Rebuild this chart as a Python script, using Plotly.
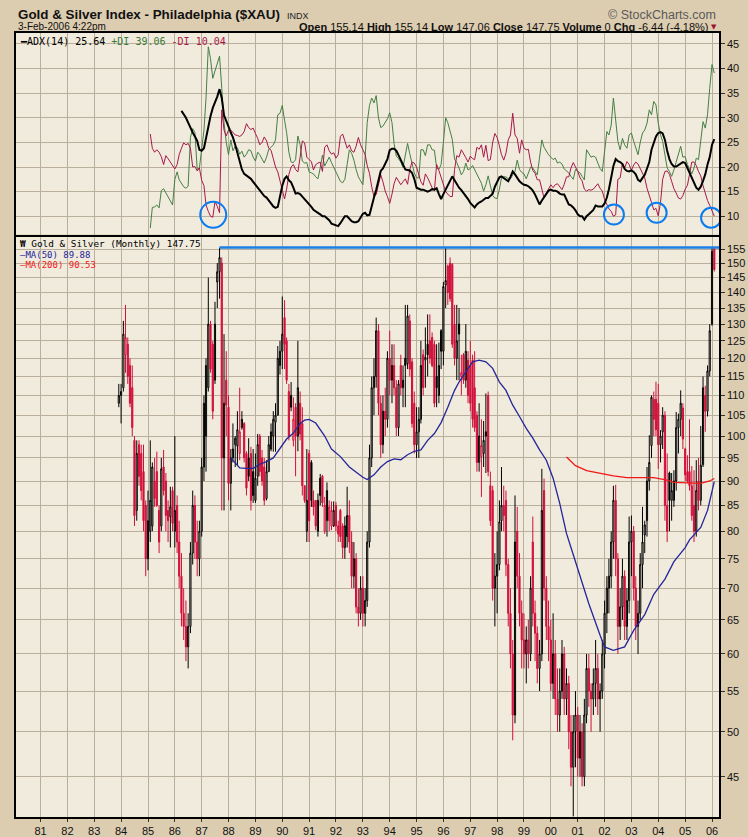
import math
import pandas as pd
import plotly.graph_objects as go

# ---------------- data ----------------
candle_start = "1983-12-01"   # first monthly bar
opens = [108,
    110,112,121,124,118,112,99,84,98,96,92,85,
    75,80,81,90,92,84,81,93,90,84,82.8,88,
    80,85,78,72,66,64,61,64,76,85,78,75,
    80,93,100,112,130,124,114,143.5,147,150,95,114,
    107,89.5,95,98,97.7,96,102,103,96,95,96,92,
    86,91,100,95,93,86.4,92,97,100,103.3,105,118,
    122,132,125,111,110,99,107,100,108,103,89,80,
    96,94,86,86,80,90.6,91,80,82,82,81,81,
    85,81,84,81,77,79,83,78,72,75,67,66,
    70,66,68,78,95,112,115,128,108,98,106,104,
    120,114,118,112,102,118,112,120,118.5,131,119,108,
    98,101,104,121,119.5,124,125,126,124,115,110,128,
    122,142.5,149,150,149.5,130,120,130,115,121,114,119.5,
    118,119.5,112,105,94,95.3,96,101,110,89,88,70,
    72,74,82,85,86,74,66,60,52,80,72,66,
    62,60,62,60,78,66,63,58,60,88,70,64,
    62,56,60,54,52,55,60,54,56,50,46,50,
    52,47,50,45,52,58,55,54,56,58,54,55,
    60,66,70,72,78,86,75,64,67,72,64,68,
    78,80,70,64,66,74,79.3,82,90,97.8,109,109,
    108,98,101,105,85,91.7,86,86,90,102,104,106.8,
    97,92,92,89,85,80,90,86,93.5,110,106,116.5,
    130,155.14]
highs = [113,
    113,131,136,126,120,118,100,99,99,98,98,86,
    88,99,94,95,96.4,85,95,96.8,91.7,86,88.8,88.8,
    100,87,82,76,70,68,66,78,88,87,82,82,
    95,110,120,145,131,125,137,150,155.5,152,127,122,
    110,97,103,100,106,112,106,103.3,96.5,99.5,97.5,97,
    96,100.5,100.5,96.8,95,94.5,100,103,106,108,123.5,125,
    138.7,137.5,126,113,113.5,109.5,108,125,111,107,89,97,
    96.8,94.5,88,86,87.4,91.5,91.3,86.7,89.7,86,85.8,85.8,
    85.7,82,84.3,81.5,82.8,88.8,86,80,78,76,70,72,
    72,70,80,98,115,120,132,130,110,110,112,122,
    128,124,124,114,114,121,118,136,136,133,120,111,
    107,107,125,122.5,129,133,133,127.5,125,124,124.5,128.5,
    143.5,155.5,149.5,152,150,136,136,135,121,121.5,130,122,
    125,121,122,106,108,104,103.6,110.5,111,92,89,76,
    80,86,93,89,88,75,70,62,87,84.7,76,68,
    66,64,65,72,82.8,68,64,62,92.6,90.5,72,68,
    65,66,62,58,58,62,61,58,57,52,52,55,
    53,52,51,54,60,60,56,58,62,60,56,62,
    68,72,75,80,89,89.2,76,70,75,73,70,82.8,
    83,81,72,68,76,84.7,82,93,100.2,110,111,113.6,
    113,101.4,107,106,96,92,91.7,92.3,105.8,105.4,111.3,108,
    97.3,95.6,104,93.2,92.3,94.5,95,102.4,115,112.5,118,130,
    155.5,155.14]
lows = [107,
    103,111,116,113,107,100,81,82,89,86,80,72,
    73,78,80,84.7,84.7,76,80,87,80,78,77,80,
    77,76,70,64,62,59,58,63,74,75,72,72,
    79,90,92,111,116,104,113,135,138,84,84,100,
    86,84,94,93,93.4,94.5,101.5,94,87,90,84,85.5,
    85.5,89,91,89,85,86,92,96.5,96.4,96.4,105,115.5,
    117,117,113,99,106,97.6,91,96.5,99,87,85.5,78,
    78,84.7,83,80.2,79,85,84.7,79.5,79,80,80.2,80.8,
    80,78,78,75,75,77,76,70,70,66,64,65,
    64,64,67,77,93,105,112,105,95,96,100,102,
    110,108,110,100,100,110,107,107,117,115,102,96,
    95,95,103,110,112,115,118.5,117.5,107,107,108,117,
    118,135,136,137,123,118,114,114,110,113,112,108,
    106,102,101,92,92,86.7,93,91.7,91,81,68,64,
    66,73,80,80,72,64,58,49,51,70,64,58,
    58,56,58,59,64,59,56,55,59,68,62,59,
    55,54,52,50,50,54,52,52,48,44,41,46,
    45,45,44,44,51,53,50,52,53,52,50,54,
    58,63,66,70,75,72,60,62,65,62,62,66,
    72,68,62,60,65,70,76,79,88,95,100,100,
    92.6,94,97,82,78,80,82,84.7,88,96,100,97,
    90,89.6,88,82,78,79,84,85,93,101,104.7,115,
    129.5,147.06]
closes = [110,
    111,127,126,115,108,102,83,96,91,88,82,75,
    82,86,93,86.4,85,78,92.6,88,83,82,84.7,81.5,
    84,78,72,66,64,61,64,76,85,78,75,80,
    93,108,118,130,117,106,130,147,152,95,108,107.5,
    89.5,95,97,99.5,101.5,101,104,95,88.5,91,86,87,
    90.6,98,92,90,86,92,98,101,104,105,120,122,
    127,124,114,100,107,104,100,112,100.5,89,86,86,
    82,86,84.7,81,86,87,85.5,85,88,84.7,84,84,
    81,79.5,79,77,81,83,78,72,75,67,66,70,
    66,68,78,95,112,115,128,108,98,106,104,120,
    114,118,112,102,113,112,114,118,132.5,117,103,98,
    101,104,118,112,120.3,121,120,118,108,112,118,122,
    142,144,140,138,124,120,125,127,116,114,122,110,
    108,104,102,94,100,97.8,99,100,92,82,70,72,
    74,81.8,85,83,74,66,60,52,78,72,66,62,
    60,62,60,70,66,63,58,60,84,70,64,62,
    56,60,54,52,55,60,54,56,50,46,50,52,
    47,50,45,52,58,55,54,56,58,54,55,60,
    66,70,72,78,86,75,64,67,72,64,68,78,
    80,70,64,66,74,78,81.2,90,94,109.5,104,101.5,
    98,100,105,85,80,86,88,90,102,104,108,99.3,
    91.3,90,89,83,80,88,86,93.4,112,106,116.5,128,
    154.19,147.75]

dmi_start = "1985-02-01"
plus_di = [7.6,11.8,11.9,12.3,11.7,15.2,15.6,14.7,14.0,13.2,12.3,
    17.5,19.0,17.4,16.8,16.0,15.7,16.1,26.0,27.8,27.0,19.5,19.8,
    24.0,27.5,34.0,44.4,42.0,38.0,39.5,41.0,42.5,36.0,29.0,25.0,
    22.5,25.5,23.3,24.2,23.9,22.6,23.2,22.0,22.6,23.5,23.3,22.0,
    21.2,23.0,22.5,21.6,20.8,22.0,23.6,24.0,24.5,25.5,30.6,30.9,
    32.5,29.5,27.0,23.0,21.0,20.9,21.5,26.3,24.5,21.2,20.8,20.9,
    19.0,18.8,18.6,18.0,17.6,19.8,22.4,20.2,21.0,22.0,20.9,20.0,
    19.0,18.0,17.1,16.8,17.5,20.5,23.5,22.8,21.4,19.5,18.0,17.2,
    16.4,22.0,29.0,32.5,34.0,33.0,34.5,30.0,28.0,28.3,29.0,29.8,
    31.0,29.0,24.8,22.2,21.7,21.0,19.9,22.5,24.8,22.7,20.5,18.8,
    17.8,17.8,23.5,23.5,22.3,24.5,24.5,23.5,23.4,19.8,19.5,20.5,
    25.0,30.0,29.0,27.2,25.6,21.6,20.9,19.8,18.4,19.1,20.8,19.4,
    19.7,20.3,19.4,18.3,17.5,16.7,15.1,16.4,18.2,16.2,14.2,13.7,
    13.6,15.5,17.8,18.0,18.0,17.6,17.6,18.4,19.1,21.4,19.5,18.9,
    18.6,17.6,18.7,20.0,19.8,19.1,18.4,22.0,25.5,24.0,23.2,22.5,
    22.0,21.5,21.8,20.8,21.0,20.6,19.6,19.2,18.8,18.1,17.5,19.5,
    19.2,18.8,18.1,17.4,23.5,22.8,22.0,22.2,22.0,20.8,19.7,19.1,
    23.8,27.2,26.5,28.5,34.0,29.6,25.2,23.5,25.8,24.5,23.8,26.5,
    26.9,25.2,23.8,22.5,25.0,26.9,27.5,28.9,31.6,30.6,33.3,32.6,
    28.9,26.5,25.2,22.5,19.8,19.1,18.1,19.4,21.1,22.5,24.2,22.0,
    22.1,20.5,19.4,18.6,19.8,21.8,21.5,25.2,29.2,27.9,30.6,36.0,
    40.8,39.06]
minus_di = [26.7,23.8,23.0,23.5,23.0,22.1,20.5,22.3,21.7,21.0,20.2,
    19.6,20.5,22.5,23.8,24.9,24.5,24.8,23.8,20.0,20.1,19.2,19.8,
    17.3,16.2,12.3,11.0,10.0,9.8,13.0,12.0,10.7,31.6,27.5,26.3,
    27.5,27.5,27.0,26.5,26.4,26.2,26.5,27.2,28.8,28.0,27.6,27.9,
    26.8,25.8,24.5,25.0,26.1,25.3,23.8,23.4,21.7,20.0,19.0,17.2,
    14.8,13.5,15.5,18.5,20.0,20.5,19.5,19.0,22.0,25.3,24.9,22.0,
    21.5,21.1,19.4,20.5,20.8,21.0,19.1,24.0,24.5,23.3,22.6,22.9,
    21.8,22.5,26.2,26.7,25.3,23.8,24.5,23.3,23.0,24.2,26.0,24.5,
    23.5,22.5,20.3,18.7,16.0,14.0,14.4,16.5,18.4,17.0,15.1,14.0,
    12.6,14.5,16.6,17.9,17.1,16.4,17.0,17.6,16.5,19.5,21.0,20.8,
    20.0,18.5,17.0,16.3,18.6,17.8,16.8,15.8,15.2,20.5,19.3,18.0,
    16.2,15.0,14.5,14.0,14.0,19.5,22.3,22.0,23.5,22.8,21.9,21.0,
    22.2,21.7,21.5,24.0,23.6,24.5,22.0,24.4,21.3,21.5,25.0,26.8,
    26.0,24.3,22.5,21.4,22.8,25.5,26.5,30.9,26.5,25.8,22.8,25.5,
    23.8,23.5,23.6,21.0,19.3,18.7,17.4,17.4,15.4,13.7,14.7,15.4,
    16.4,15.8,16.4,16.6,15.9,15.4,16.5,18.0,18.0,19.8,20.9,20.0,
    19.1,17.8,17.2,15.5,15.1,15.4,15.3,15.5,16.2,16.6,15.7,15.1,
    13.4,12.2,11.5,11.0,10.0,10.3,17.5,17.8,20.8,19.8,21.1,20.5,
    19.3,20.4,21.0,20.6,19.7,18.8,17.8,15.7,14.4,12.8,11.3,11.6,
    10.1,12.8,17.5,19.1,19.2,18.5,17.1,15.6,14.7,13.7,13.5,14.2,
    15.5,16.3,18.5,21.0,21.0,20.3,19.1,18.2,16.2,14.6,13.2,12.2,
    11.0,10.04]
adx_start = "1986-04-01"
adx = [31.4,30.8,30.0,29.0,27.8,27.0,26.2,25.3,23.5,
    23.3,23.8,26.0,28.0,30.3,32.0,33.0,34.3,35.8,34.0,30.5,29.2,
    28.2,27.0,26.0,24.5,22.8,21.5,19.5,18.6,18.3,18.0,17.6,17.0,
    16.4,15.7,15.1,14.6,14.1,13.8,13.3,12.6,12.0,11.7,11.9,14.4,
    16.2,17.6,18.1,17.3,16.9,15.8,14.6,14.7,14.5,14.0,13.5,13.0,
    12.6,11.9,11.3,10.9,10.7,10.4,10.0,10.0,9.6,9.2,8.5,8.3,
    8.2,8.0,8.6,9.3,10.0,10.0,9.5,9.0,8.8,8.8,9.0,9.8,
    10.5,10.7,10.2,10.3,12.2,13.8,15.4,17.5,19.2,19.7,20.6,21.6,
    23.4,23.7,23.7,23.3,22.4,21.4,20.2,19.5,19.4,19.3,18.8,17.6,
    15.8,15.5,15.4,15.4,15.2,15.0,15.2,15.5,15.4,15.7,14.5,13.5,
    14.5,15.5,16.3,17.2,18.1,17.3,16.5,15.8,15.3,14.7,14.2,13.5,
    12.7,12.2,11.8,12.4,12.8,13.0,13.4,13.7,13.7,14.1,14.6,16.0,
    17.0,17.9,18.1,17.7,17.3,17.1,18.0,19.1,18.5,17.8,17.1,16.7,
    16.4,16.3,16.1,15.7,15.2,14.4,13.5,12.4,13.2,13.9,14.7,15.2,
    15.4,15.2,15.2,15.0,14.6,14.4,14.4,13.2,12.4,12.2,11.8,11.2,
    10.4,10.0,10.0,9.3,10.0,10.4,10.9,11.3,12.2,12.0,12.0,12.0,
    12.6,13.8,15.5,18.0,20.2,21.6,21.2,21.0,20.6,19.6,19.2,19.1,
    19.3,19.0,18.5,17.4,17.1,17.8,18.4,19.7,21.0,23.5,25.0,26.2,
    26.9,27.1,26.8,25.5,23.3,21.6,20.6,20.1,20.1,20.4,20.6,21.0,
    20.8,19.8,18.6,17.8,16.8,15.8,15.4,16.0,17.2,18.5,20.5,22.0,
    24.5,25.64]

ma50_dates = ["1988-02","1988-06","1988-09","1988-12","1989-03","1989-06","1989-09",
    "1989-12","1990-03","1990-06","1990-09","1990-11","1991-01","1991-04","1991-06",
    "1991-08","1991-11","1992-03","1992-07","1992-10","1993-01","1993-03","1993-06",
    "1993-09","1993-12","1994-03","1994-06","1994-09","1994-12","1995-03","1995-06",
    "1995-09","1995-12","1996-03","1996-06","1996-08","1996-11","1997-02","1997-05",
    "1997-08","1997-11","1998-02","1998-05","1998-08","1998-11","1999-02","1999-05",
    "1999-08","1999-11","2000-02","2000-05","2000-08","2000-10","2001-02","2001-06",
    "2001-11","2002-01","2002-05","2002-10","2003-02","2003-07","2003-11","2004-04",
    "2004-08","2005-01","2005-03","2005-05","2005-08","2005-11","2006-01","2006-02"]
ma50_vals = [95.0,92.8,92.7,92.7,93.6,94.2,95.0,
    97.2,99.3,100.7,103.0,103.8,104.0,103.1,101.4,
    100.0,97.0,95.3,93.0,91.8,90.8,90.3,91.3,
    93.0,94.2,94.8,94.6,95.7,96.5,96.8,99.0,
    100.6,103.2,107.0,111.3,113.5,116.2,119.0,119.5,
    119.0,117.2,113.5,111.3,107.5,104.7,101.8,99.5,
    96.8,94.5,90.6,85.4,79.6,77.0,72.0,67.5,
    62.7,61.0,60.5,61.0,63.4,65.8,69.0,71.5,
    74.5,77.0,78.4,79.3,80.7,84.0,87.5,89.88]
ma200_dates = ["2000-08","2000-12","2001-05","2001-11","2002-05","2002-11","2003-05",
    "2003-11","2004-05","2004-08","2005-02","2005-08","2005-12","2006-02"]
ma200_vals = [95.2,93.3,92.2,91.6,91.1,90.7,90.7,90.7,90.2,89.7,89.6,89.5,90.0,90.53]

peak_line_start = "1987-09-01"
peak_line_level = 155.6

circle_marks = [("1987-06-07", 10.3, 13), ("2002-05-08", 10.35, 10),
                ("2003-12-10", 10.7, 10), ("2005-12-19", 9.7, 10)]

y_main_ticks = [45, 50, 55, 60, 65, 70, 75, 80, 85, 90, 95, 100, 105, 110, 115, 120,
                125, 130, 135, 140, 145, 150, 155]
y_adx_ticks = [10, 15, 20, 25, 30, 35, 40, 45]

# ---------------- figure ----------------
W, H = 748, 837
L, R, T, B = 16, 719, 33, 817
PAPER = "#DCCCB0"


def px(x):
    return (x - L) / (R - L)


def py(y):
    return (B - y) / (B - T)


months = pd.date_range(candle_start, periods=len(closes), freq="MS")
dmi_months = pd.date_range(dmi_start, periods=len(plus_di), freq="MS")
adx_months = pd.date_range(adx_start, periods=len(adx), freq="MS")

RED = "#D20F3A"
GRID = "#B9AF9C"
fig = go.Figure()

# StockCharts colouring: black when the close is above the previous close, red when
# below; hollow when the close is above the open, filled when below.
prev = [opens[0]] + closes[:-1]
up_idx = [i for i in range(len(closes)) if closes[i] >= prev[i]]
dn_idx = [i for i in range(len(closes)) if closes[i] < prev[i]]
for idx, col in ((up_idx, "#000000"), (dn_idx, RED)):
    fig.add_trace(go.Candlestick(
        x=[months[i] for i in idx], open=[opens[i] for i in idx],
        high=[highs[i] for i in idx], low=[lows[i] for i in idx],
        close=[closes[i] for i in idx],
        increasing=dict(line=dict(color=col, width=1), fillcolor="rgba(0,0,0,0)"),
        decreasing=dict(line=dict(color=col, width=1), fillcolor=col),
        whiskerwidth=0, xaxis="x", yaxis="y", showlegend=False, hoverinfo="skip"))

fig.add_trace(go.Scatter(x=ma50_dates, y=ma50_vals, mode="lines",
                         line=dict(color="#25259A", width=1.3), xaxis="x", yaxis="y",
                         showlegend=False, hoverinfo="skip"))
fig.add_trace(go.Scatter(x=ma200_dates, y=ma200_vals, mode="lines",
                         line=dict(color="#F01818", width=1.3), xaxis="x", yaxis="y",
                         showlegend=False, hoverinfo="skip"))
fig.add_trace(go.Scatter(x=[peak_line_start, "2006-04-06"],
                         y=[peak_line_level, peak_line_level], mode="lines",
                         line=dict(color="#1A7FE8", width=2.5), xaxis="x", yaxis="y",
                         showlegend=False, hoverinfo="skip"))

fig.add_trace(go.Scatter(x=dmi_months, y=plus_di, mode="lines",
                         line=dict(color="#447F44", width=1), xaxis="x2", yaxis="y2",
                         showlegend=False, hoverinfo="skip"))
fig.add_trace(go.Scatter(x=dmi_months, y=minus_di, mode="lines",
                         line=dict(color="#A8174A", width=1), xaxis="x2", yaxis="y2",
                         showlegend=False, hoverinfo="skip"))
fig.add_trace(go.Scatter(x=adx_months, y=adx, mode="lines",
                         line=dict(color="#000000", width=2), xaxis="x2", yaxis="y2",
                         showlegend=False, hoverinfo="skip"))

shapes = []
for d, v, r in circle_marks:
    shapes.append(dict(type="circle", xref="x2", yref="y2", xsizemode="pixel",
                       ysizemode="pixel", xanchor=d, yanchor=v,
                       x0=-r, x1=r, y0=-r, y1=r,
                       line=dict(color="#0A7CF0", width=2)))

tickfont = dict(family="Liberation Sans, Arial, sans-serif", size=11, color="#111111")
xr = ["1980-02-02", "2006-04-06"]
main_top = py(236.5)
adx_bot = py(234.5)

fig.update_layout(
    width=W, height=H,
    margin=dict(l=L, r=W - R, t=T, b=H - B, autoexpand=False),
    paper_bgcolor=PAPER, plot_bgcolor="#F0EBDC",
    boxgap=0.2, boxmode="overlay",
    shapes=shapes,
    xaxis=dict(domain=[0, 1], anchor="y", type="date", range=xr, automargin=False,
               tick0="1981-01-01", dtick="M12", tickformat="%y",
               showgrid=True, gridcolor=GRID, gridwidth=1,
               ticks="outside", ticklen=3, tickcolor="#333", tickfont=tickfont,
               showline=True, mirror=True, linecolor="#000", linewidth=1.5,
               rangeslider=dict(visible=False), zeroline=False),
    yaxis=dict(domain=[0, main_top], anchor="x", type="log", automargin=False,
               range=[math.log10(40.94), math.log10(159.65)],
               tickmode="array", tickvals=y_main_ticks,
               ticktext=[str(v) for v in y_main_ticks],
               side="right", showgrid=True, gridcolor=GRID, gridwidth=1,
               ticks="outside", ticklen=4, tickcolor="#333", tickfont=tickfont,
               showline=True, mirror=True, linecolor="#000", linewidth=1.5,
               zeroline=False),
    xaxis2=dict(domain=[0, 1], anchor="y2", type="date", range=xr, matches="x",
                automargin=False,
                tick0="1981-01-01", dtick="M12", showticklabels=False,
                showgrid=True, gridcolor=GRID, gridwidth=1, ticks="",
                showline=True, mirror=True, linecolor="#000", linewidth=1.5,
                rangeslider=dict(visible=False), zeroline=False),
    yaxis2=dict(domain=[adx_bot, 1], anchor="x2", range=[6.3, 47.2], automargin=False,
                tickmode="array", tickvals=y_adx_ticks,
                side="right", showgrid=True, gridcolor=GRID, gridwidth=1,
                ticks="outside", ticklen=4, tickcolor="#333", tickfont=tickfont,
                showline=True, mirror=True, linecolor="#000", linewidth=1.5,
                zeroline=False),
)

ann = []
title_font = dict(family="Liberation Sans, Arial", size=13.4, color="#111")
ann.append(dict(x=px(16), y=py(15), xref="paper", yref="paper", xanchor="left",
                yanchor="middle", showarrow=False,
                text="<b>Gold & Silver Index - Philadelphia ($XAU)</b>", font=title_font))
ann.append(dict(x=px(285), y=py(16), xref="paper", yref="paper", xanchor="left",
                yanchor="middle", showarrow=False, text="INDX",
                font=dict(family="Liberation Sans, Arial", size=9, color="#222")))
ann.append(dict(x=px(718), y=py(15), xref="paper", yref="paper", xanchor="right",
                yanchor="middle", showarrow=False, text="© StockCharts.com",
                font=dict(family="Liberation Sans, Arial", size=12.5, color="#5a5a5a")))
ann.append(dict(x=px(16), y=py(27), xref="paper", yref="paper", xanchor="left",
                yanchor="middle", showarrow=False, text="3-Feb-2006 4:22pm",
                font=dict(family="Liberation Sans, Arial", size=10, color="#111")))
ann.append(dict(x=px(711), y=py(27), xref="paper", yref="paper", xanchor="right",
                yanchor="middle", showarrow=False,
                text="<b>Open</b> 155.14 <b>High</b> 155.14 <b>Low</b> 147.06 "
                     "<b>Close</b> 147.75 <b>Volume</b> 0 <b>Chg</b> -6.44 (-4.18%)",
                font=dict(family="Liberation Sans, Arial", size=11, color="#111")))
ann.append(dict(x=px(719), y=py(27), xref="paper", yref="paper", xanchor="right",
                yanchor="middle", showarrow=False, text="▼",
                font=dict(family="DejaVu Sans", size=7, color="#A01030")))

leg_font = dict(family="DejaVu Sans Mono, monospace", size=10, color="#000")
ann.append(dict(x=px(18), y=py(41), xref="paper", yref="paper", xanchor="left",
                yanchor="middle", showarrow=False,
                text="<b>━</b>ADX(14) 25.64 <span style='color:#3B7A3B'>+DI 39.06</span> "
                     "<span style='color:#A8174A'>-DI 10.04</span>",
                font=leg_font))
ann.append(dict(x=px(18), y=py(243.5), xref="paper", yref="paper", xanchor="left",
                yanchor="middle", showarrow=False,
                text="<b>₩</b> Gold & Silver (Monthly) 147.75",
                font=dict(family="DejaVu Sans Mono, monospace", size=9.4, color="#000")))
ann.append(dict(x=px(18), y=py(254.5), xref="paper", yref="paper", xanchor="left",
                yanchor="middle", showarrow=False,
                text="—MA(50) 89.88",
                font=dict(family="DejaVu Sans Mono, monospace", size=9, color="#1E1E9A")))
ann.append(dict(x=px(18), y=py(265), xref="paper", yref="paper", xanchor="left",
                yanchor="middle", showarrow=False,
                text="—MA(200) 90.53",
                font=dict(family="DejaVu Sans Mono, monospace", size=9, color="#F01818")))
fig.update_layout(annotations=ann)

# the page's default 8px body margin would shift the figure; remove it
fig.write_html("out.html",
               config={"displayModeBar": False},
               post_script="document.body.style.margin='0px';"
                           "document.body.style.background='" + PAPER + "';")
